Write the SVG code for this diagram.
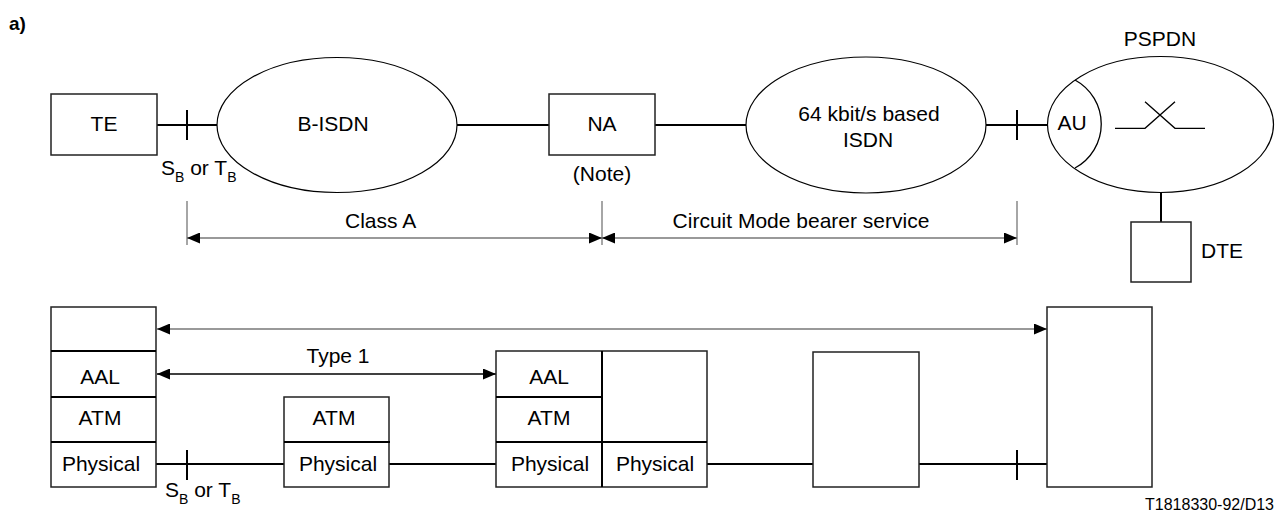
<svg xmlns="http://www.w3.org/2000/svg" width="1276" height="511" viewBox="0 0 1276 511">
<style>
text{font-family:"Liberation Sans",Arial,sans-serif;font-size:21px;fill:#000}
.c{text-anchor:middle}
.box{fill:#fff;stroke:#222;stroke-width:1.5}
.ell{fill:#fff;stroke:#000;stroke-width:1.2}
.ln{fill:none;stroke:#000;stroke-width:2}
.thin{fill:none;stroke:#000;stroke-width:1.3}
.dim{fill:none;stroke:#777;stroke-width:1.3}
.sub{font-size:14px}
</style>
<defs>
<marker id="ah" viewBox="0 0 13 11" refX="13" refY="5.5" markerWidth="13" markerHeight="11" markerUnits="userSpaceOnUse" orient="auto-start-reverse">
<path d="M0,0 L13,5.5 L0,11 z" fill="#000"/>
</marker>
</defs>
<rect width="1276" height="511" fill="#fff"/>
<text x="9" y="30" style="font-weight:bold;font-size:19px">a)</text>

<g id="connectors">
<path class="ln" d="M157,125 H217 M187,110 V140 M457,125 H549 M655,125 H746 M986,125 H1047 M1017,110 V140 M1161,192.5 V222"/>
<path class="ln" d="M156,464 H284 M187,450 V480 M389,464 H496 M707,464 H813 M919,464 H1047 M1017,450 V480"/>
<path class="dim" d="M187,201 V245 M602,201 V245 M1017,201 V245"/>
<path class="dim" d="M187,238 H602" marker-start="url(#ah)" marker-end="url(#ah)"/>
<path class="dim" d="M602,238 H1017" marker-start="url(#ah)" marker-end="url(#ah)"/>
<path class="dim" style="stroke-width:1.6" d="M157,329 H1047" marker-start="url(#ah)" marker-end="url(#ah)"/>
<path class="thin" d="M157,374 H496" marker-start="url(#ah)" marker-end="url(#ah)"/>
<text x="345" y="228">Class A</text>
<text x="801" y="228" class="c">Circuit Mode bearer service</text>
<text x="338" y="363" class="c">Type 1</text>
<text x="161" y="175">S<tspan class="sub" dy="7">B</tspan><tspan dy="-7"> or T</tspan><tspan class="sub" dy="7">B</tspan></text>
<text x="165" y="497">S<tspan class="sub" dy="7">B</tspan><tspan dy="-7"> or T</tspan><tspan class="sub" dy="7">B</tspan></text>
</g>

<g id="te">
<rect class="box" x="51" y="94" width="106" height="61"/>
<text x="104" y="131" class="c">TE</text>
</g>
<g id="bisdn">
<ellipse class="ell" cx="337" cy="125" rx="120" ry="67.5"/>
<text x="333" y="131" class="c">B-ISDN</text>
</g>
<g id="na">
<rect class="box" x="549" y="94" width="106" height="61"/>
<text x="602" y="131" class="c">NA</text>
<text x="602" y="181" class="c">(Note)</text>
</g>
<g id="isdn64">
<ellipse class="ell" cx="866" cy="125" rx="120" ry="68"/>
<text x="869" y="121" class="c">64 kbit/s based</text>
<text x="868" y="147" class="c">ISDN</text>
</g>
<g id="pspdn">
<ellipse class="ell" cx="1160.5" cy="124.5" rx="113" ry="68"/>
<path class="thin" d="M1075,80 A50,50 0 0,1 1075,168"/>
<text x="1072" y="130" class="c">AU</text>
<path class="thin" d="M1115,128.3 H1145 L1175,101.7 M1145,101.7 L1175,128.3 H1205"/>
<text x="1160" y="46" class="c">PSPDN</text>
</g>
<g id="dte">
<rect class="box" x="1131" y="222" width="60" height="60"/>
<text x="1201" y="258">DTE</text>
</g>

<g id="stack-te">
<rect class="box" x="51" y="307" width="105" height="180"/>
<path class="ln" d="M51,351 H156 M51,397 H156 M51,442 H156"/>
<text x="100" y="384" class="c">AAL</text>
<text x="100" y="425" class="c">ATM</text>
<text x="101" y="471" class="c">Physical</text>
</g>
<g id="stack-mid">
<rect class="box" x="284" y="397" width="105" height="90"/>
<path class="ln" d="M284,442 H390"/>
<text x="334" y="425" class="c">ATM</text>
<text x="338" y="471" class="c">Physical</text>
</g>
<g id="stack-na">
<rect class="box" x="496" y="351" width="211" height="136"/>
<path class="ln" d="M602,351 V487 M496,397 H602 M496,442 H707"/>
<text x="549" y="384" class="c">AAL</text>
<text x="549" y="425" class="c">ATM</text>
<text x="550" y="471" class="c">Physical</text>
<text x="655" y="471" class="c">Physical</text>
</g>
<g id="stack-isdn">
<rect class="box" x="813" y="352" width="106" height="135"/>
</g>
<g id="stack-pspdn">
<rect class="box" x="1047" y="307" width="105" height="180"/>
</g>
<text x="1274" y="510" style="font-size:16px;text-anchor:end">T1818330-92/D13</text>
</svg>
